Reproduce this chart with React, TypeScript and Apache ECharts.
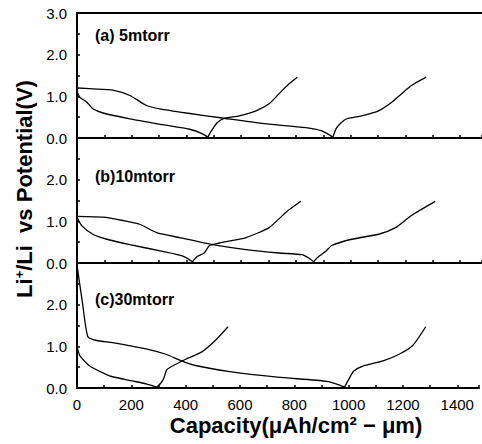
import React, { useEffect, useRef } from "react";
import * as echarts from "echarts";

// Panel (a) 5mtorr
const aDischarge1 = [[0, 1.12], [10, 0.98], [36, 0.86], [58, 0.7], [95, 0.6], [193, 0.46], [313, 0.32], [411, 0.21], [455, 0.11], [478, 0.02]];
const aCharge1 = [[478, 0.02], [491, 0.17], [513, 0.37], [538, 0.47], [593, 0.53], [654, 0.65], [702, 0.82], [738, 1.06], [775, 1.3], [805, 1.46]];
const aDischarge2 = [[0, 1.2], [58, 1.18], [131, 1.15], [193, 1.02], [254, 0.78], [302, 0.7], [400, 0.6], [531, 0.48], [676, 0.35], [836, 0.25], [895, 0.17], [935, 0.02]];
const aCharge2 = [[935, 0.02], [949, 0.25], [982, 0.45], [1040, 0.53], [1102, 0.65], [1149, 0.85], [1186, 1.06], [1222, 1.26], [1276, 1.46]];

// Panel (b) 10mtorr
const bDischarge1 = [[0, 1.1], [18, 0.89], [58, 0.69], [109, 0.57], [193, 0.44], [313, 0.28], [385, 0.17], [422, 0.03]];
const bCharge1 = [[422, 0.03], [440, 0.16], [465, 0.24], [484, 0.42], [520, 0.48], [618, 0.61], [702, 0.85], [764, 1.22], [818, 1.48]];
const bDischarge2 = [[0, 1.12], [95, 1.1], [167, 1.02], [229, 0.93], [291, 0.73], [375, 0.61], [496, 0.44], [618, 0.32], [738, 0.24], [822, 0.2], [847, 0.12], [865, 0.03]];
const bCharge2 = [[865, 0.03], [884, 0.16], [909, 0.28], [931, 0.42], [1004, 0.57], [1102, 0.69], [1164, 0.85], [1222, 1.14], [1309, 1.48]];

// Panel (c) 30mtorr
const cDischarge1 = [[0, 1.0], [11, 0.77], [47, 0.53], [109, 0.32], [131, 0.27], [204, 0.17], [254, 0.1], [293, 0.02]];
const cCharge1 = [[293, 0.02], [309, 0.12], [320, 0.24], [331, 0.44], [364, 0.57], [400, 0.69], [458, 0.86], [509, 1.14], [556, 1.47]];
const cDischarge2 = [[0, 2.95], [20, 2.05], [40, 1.23], [73, 1.14], [131, 1.09], [254, 0.94], [327, 0.81], [385, 0.65], [436, 0.54], [556, 0.4], [738, 0.26], [920, 0.16], [967, 0.07], [985, 0.02]];
const cCharge2 = [[985, 0.02], [1000, 0.2], [1018, 0.4], [1055, 0.53], [1127, 0.65], [1186, 0.81], [1236, 1.02], [1284, 1.47]];

const panelLabels = ["(a) 5mtorr", "(b)10mtorr", "(c)30mtorr"];
const panelSeries = [
  [aDischarge1, aCharge1, aDischarge2, aCharge2],
  [bDischarge1, bCharge1, bDischarge2, bCharge2],
  [cDischarge1, cCharge1, cDischarge2, cCharge2],
];

const FONT = "'Liberation Sans', Arial, sans-serif";

export default function App() {
  const ref = useRef<HTMLDivElement>(null);
  useEffect(() => {
    if (!ref.current) return;
    const chart = echarts.init(ref.current, undefined, { renderer: "svg" });
    const tops = [13, 138, 263];
    const H = 125;
    const grids = tops.map((t) => ({ left: 77, right: 0, top: t, height: H }));
    const axisLine = { show: true, lineStyle: { color: "#000", width: 2 } };
    const xAxes: any[] = tops.map((_, i) => ({
      type: "value",
      gridIndex: i,
      min: 0,
      max: 1480,
      interval: 100,
      axisLine,
      axisTick: { show: true, inside: true, length: 3, lineStyle: { color: "#000", width: 1.5 } },
      axisLabel: {
        show: i === 2,
        margin: 9,
        color: "#000",
        fontSize: 15,
        fontFamily: FONT,
        formatter: (v: number) => (v % 200 === 0 && v <= 1400 ? String(v) : ""),
      },
      splitLine: { show: false },
    }));
    xAxes.push({
      type: "value",
      gridIndex: 0,
      position: "top",
      min: 0,
      max: 1480,
      axisLine,
      axisTick: { show: false },
      axisLabel: { show: false },
      splitLine: { show: false },
    });
    const yAxes = tops.map((_, i) => ({
      type: "value",
      gridIndex: i,
      min: 0,
      max: 3,
      interval: 0.5,
      axisLine,
      axisTick: { show: true, inside: true, length: 3, lineStyle: { color: "#000", width: 1.5 } },
      axisLabel: {
        margin: 10,
        color: "#000",
        fontSize: 15,
        fontFamily: FONT,
        formatter: (v: number) => {
          if (v % 1 !== 0) return "";
          if (i > 0 && v === 3) return "";
          return v.toFixed(1);
        },
      },
      splitLine: { show: false },
    }));
    const series: any[] = [];
    panelSeries.forEach((list, i) => {
      list.forEach((d) => {
        series.push({
          type: "line",
          xAxisIndex: i,
          yAxisIndex: i,
          data: d,
          showSymbol: false,
          smooth: 0.2,
          lineStyle: { color: "#000", width: 1.3 },
        });
      });
    });
    const graphic: any[] = panelLabels.map((t, i) => ({
      type: "text",
      left: 95,
      top: tops[i] + [14, 30, 28][i],
      style: { text: t, font: `bold 16px ${FONT}`, fill: "#000" },
    }));
    graphic.push({
      type: "text",
      x: 24,
      y: 189,
      rotation: Math.PI / 2,
      style: {
        text: "{a|Li}{s|+}{a|/Li  vs Potential(V)}",
        align: "center",
        verticalAlign: "middle",
        fill: "#000",
        rich: {
          a: { font: `bold 22px ${FONT}`, fill: "#000" },
          s: { font: `bold 13px ${FONT}`, fill: "#000", verticalAlign: "top" },
        },
      },
    });
    graphic.push({
      type: "text",
      x: 296,
      y: 425,
      style: {
        text: "Capacity(\u03bcAh/cm\u00b2 \u2212 \u03bcm)",
        align: "center",
        verticalAlign: "middle",
        font: `bold 22px ${FONT}`,
        fill: "#000",
      },
    });
    chart.setOption({
      animation: false,
      backgroundColor: "#fff",
      grid: grids,
      xAxis: xAxes,
      yAxis: yAxes,
      series,
      graphic,
    });
    return () => chart.dispose();
  }, []);
  return <div ref={ref} style={{ width: 482, height: 444, position: "absolute", left: 0, top: 0 }} />;
}
